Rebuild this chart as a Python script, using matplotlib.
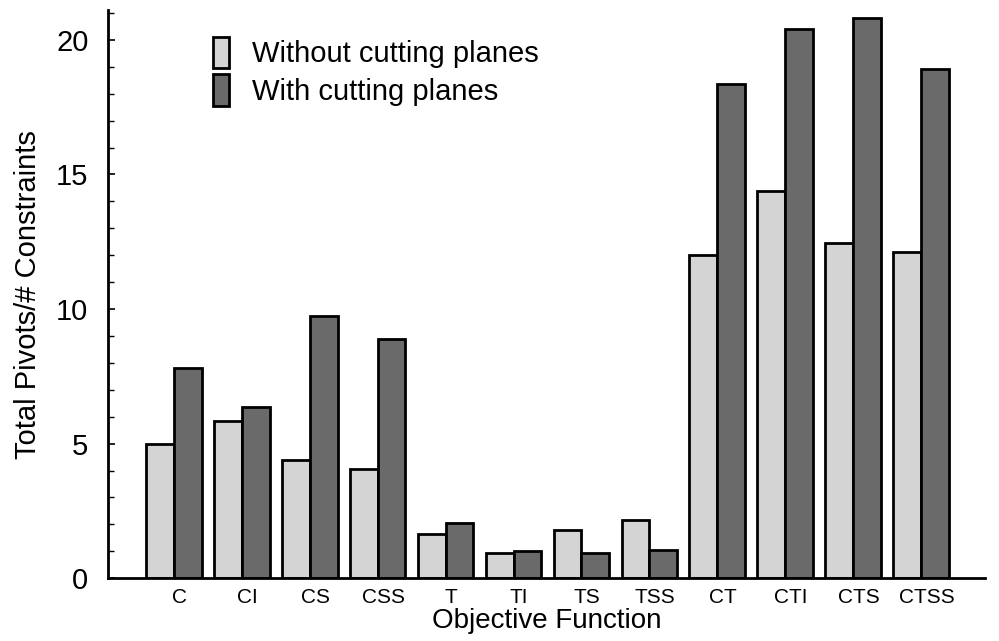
import matplotlib
matplotlib.use("Agg")
import matplotlib.pyplot as plt
import numpy as np
from matplotlib.ticker import MultipleLocator

categories = ["C", "CI", "CS", "CSS", "T", "TI", "TS", "TSS", "CT", "CTI", "CTS", "CTSS"]
without_cuts = [5.0, 5.85, 4.4, 4.05, 1.65, 0.95, 1.8, 2.15, 12.0, 14.4, 12.45, 12.1]
with_cuts = [7.8, 6.35, 9.75, 8.9, 2.05, 1.0, 0.95, 1.05, 18.35, 20.4, 20.8, 18.9]

plt.rcParams["font.family"] = ["Liberation Sans", "DejaVu Sans"]

fig = plt.figure(figsize=(9.99, 6.41), dpi=100)
ax = fig.add_axes([0.108, 0.098, 0.878, 0.886])

x = np.arange(len(categories))
w = 0.41
ax.bar(x - w / 2, without_cuts, w, color="#d4d4d4", edgecolor="black",
       linewidth=2, label="Without cutting planes")
ax.bar(x + w / 2, with_cuts, w, color="#6a6a6a", edgecolor="black",
       linewidth=2, label="With cutting planes")

ax.set_xlim(-0.97, 11.94)
ax.set_ylim(0, 21.1)
ax.set_xticks(x + 0.08)
ax.set_xticklabels(categories, fontsize=15)
ax.set_yticks([0, 5, 10, 15, 20])
ax.yaxis.set_minor_locator(MultipleLocator(1))
ax.tick_params(axis="y", direction="in", length=5, width=1.2, labelsize=21, pad=14)
ax.tick_params(axis="y", which="minor", direction="in", length=4, width=1)
ax.tick_params(axis="x", length=0, pad=7)

for s in ["top", "right"]:
    ax.spines[s].set_visible(False)
ax.spines["left"].set_linewidth(2)
ax.spines["bottom"].set_linewidth(2)

ax.set_xlabel("Objective Function", fontsize=20, labelpad=1)
ax.set_ylabel("Total Pivots/# Constraints", fontsize=21, labelpad=10)

ax.legend(loc="upper left", bbox_to_anchor=(0.09, 1.0), frameon=False,
          fontsize=21, handlelength=0.55, handleheight=1.3, handletextpad=0.8,
          labelspacing=0.2)

fig.savefig("out.png", dpi=100)
